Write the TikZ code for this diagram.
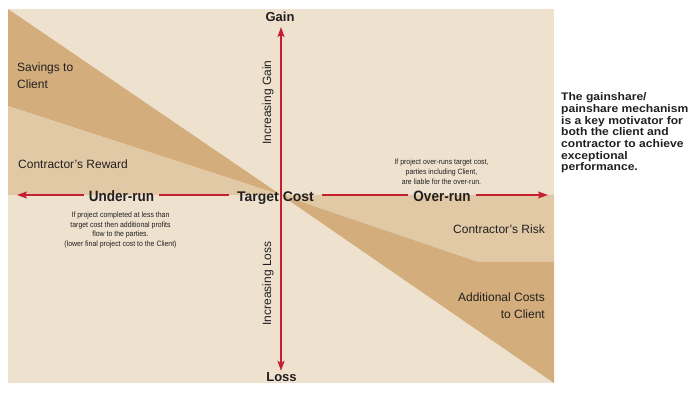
\documentclass[tikz,border=0pt]{standalone}
\usepackage{fontspec}
\setmainfont{Liberation Sans}
\newfontfamily\narrowsf[FakeStretch=0.9]{Liberation Sans}
\newfontfamily\widesf[FakeStretch=1.1]{Liberation Sans}
\usepackage{tikz}
\usetikzlibrary{arrows.meta}
\definecolor{panelbg}{RGB}{238,226,207}
\definecolor{rewardtan}{RGB}{226,201,166}
\definecolor{clienttan}{RGB}{211,174,124}
\definecolor{axisred}{RGB}{196,32,50}
\definecolor{inkgrey}{RGB}{35,31,32}

\begin{document}
\begin{tikzpicture}[x=1pt, y=-1pt, text=inkgrey,
  axis/.style={draw=axisred, line width=1.6pt},
  tip/.style={-{Stealth[length=10pt,width=7pt,inset=2pt]}},
  zone/.style={font=\fontsize{12}{17}\selectfont, inner sep=0pt},
  note/.style={font=\narrowsf\fontsize{7.7}{9.8}\selectfont, align=center, inner sep=0pt},
  runlabel/.style={font=\narrowsf\bfseries\fontsize{15}{18}\selectfont, anchor=base, inner xsep=5pt, inner ysep=0pt},
  endlabel/.style={font=\bfseries\fontsize{13}{15}\selectfont, anchor=base}]
\useasboundingbox (0,0) rectangle (697,393);
\fill[panelbg] (8,9) rectangle (554,383);
\coordinate (o) at (281,195);
\fill[clienttan] (8,9) -- (o) -- (8,106) -- cycle;
\fill[rewardtan] (8,106) -- (o) -- (8,195) -- cycle;
\fill[rewardtan] (o) -- (554,195) -- (554,262) -- (478,262) -- cycle;
\fill[clienttan] (o) -- (478,262) -- (554,262) -- (554,383) -- cycle;

\node[zone, anchor=north west, align=left] (savings) at (17,62.5) {Savings to\\Client};
\node[zone, anchor=base west] (reward) at (18,169) {Contractor’s Reward};
\node[zone, anchor=base east] (risk) at (545,234) {Contractor’s Risk};
\node[zone, anchor=north east, align=right] (addcost) at (545,292.5) {Additional Costs\\to Client};
\node[zone, rotate=90] (incgain) at (268,102.5) {Increasing Gain};
\node[zone, rotate=90] (incloss) at (268,283.5) {Increasing Loss};

\node[note, anchor=north] (undernote) at (120.5,211.5) {If project completed at less than\\target cost then additional profits\\flow to the parties.\\(lower final project cost to the Client)};
\node[note, anchor=north] (overnote) at (441.5,158.8) {If project over-runs target cost,\\parties including Client,\\are liable for the over-run.};

\node[endlabel, inner sep=5pt] (gain) at (280,21.7) {Gain};
\node[endlabel, inner sep=1.7pt] (loss) at (281.5,381.7) {Loss};
\node[font=\bfseries\fontsize{14}{16}\selectfont, anchor=base, inner xsep=8pt, inner ysep=0pt] (tc) at (275.5,201.7) {Target Cost};
\node[runlabel] (under) at (121.5,201.7) {Under-run};
\node[runlabel] (over) at (442,201.7) {Over-run};
\coordinate (westend) at (17,195);
\coordinate (eastend) at (548,195);

\draw[axis, tip] (under.west |- o) -- (westend);
\draw[axis] (under.east |- o) -- (tc.west |- o);
\draw[axis] (tc.east |- o) -- (over.west |- o);
\draw[axis, tip] (over.east |- o) -- (eastend);
\draw[axis, tip] (o) -- (gain.south -| o);
\draw[axis, tip] (o) -- (loss.north -| o);

\node[font=\widesf\bfseries\fontsize{11}{11.7}\selectfont, align=left, anchor=north west, inner sep=0pt] (motto) at (561,92.6) {The gainshare/\\painshare mechanism\\is a key motivator for\\both the client and\\contractor to achieve\\exceptional\\performance.};
\end{tikzpicture}
\end{document}
